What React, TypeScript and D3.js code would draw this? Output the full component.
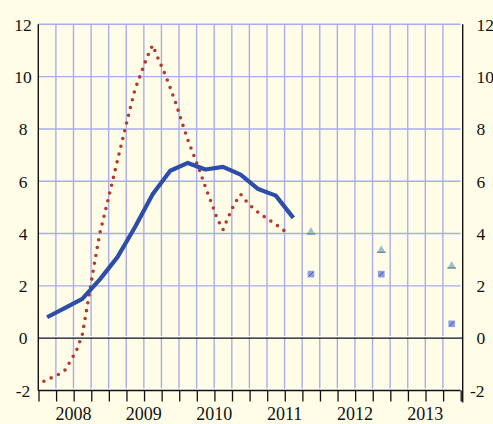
import React from "react";
import * as d3 from "d3";

// Quarterly series (solid blue), 2008Q1 .. 2011Q3
const blueStartYear = 2008;
const blueValues = [0.8, 1.15, 1.5, 2.25, 3.1, 4.25, 5.5, 6.4, 6.7, 6.45, 6.55, 6.25, 5.7, 5.45, 4.6];

// Monthly series (dotted red), Jan 2008 .. Jul 2011
const redStartYear = 2008;
const redValues = [
  -1.7, -1.58, -1.49, -1.38, -1.24, -0.87, -0.48, 0.13, 1.42, 2.77, 4.02, 4.93,
  5.85, 6.8, 7.71, 8.64, 9.52, 10.11, 10.72, 11.2, 10.66, 10.15, 9.57, 8.95,
  8.25, 7.58, 7.0, 6.41, 5.78, 5.19, 4.57, 4.15, 4.68, 5.16, 5.5, 5.23,
  5.0, 4.81, 4.65, 4.5, 4.35, 4.18, 4.02,
];

// Forecast markers (Q4 of each year)
const forecastYears = [2011, 2012, 2013];
const triangleValues = [4.1, 3.4, 2.8];
const squareValues = [2.45, 2.45, 0.55];

const yearLabels = [2008, 2009, 2010, 2011, 2012, 2013];
const yTicks = [-2, 0, 2, 4, 6, 8, 10, 12];
const gridYTicks = [2, 4, 6, 8, 10, 12];

const W = 493;
const H = 424;
const BG = "#FFFDE8";
const GRID = "#A9AEEA";
const FONT = '"Liberation Serif", "Times New Roman", Times, serif';

export default function App() {
  const x = d3.scaleLinear().domain([2008, 2014]).range([38.3, 460.5]);
  const y = d3.scaleLinear().domain([-2, 12]).range([390.5, 24.3]);

  const quarters = d3.range(0, 25).map((i) => 2008 + i / 4);

  const bluePts: [number, number][] = blueValues.map((v, i) => [
    x(blueStartYear + (i + 0.5) / 4),
    y(v),
  ]);
  const redPts: [number, number][] = redValues.map((v, i) => [
    x(redStartYear + (i + 0.5) / 12),
    y(v),
  ]);
  const line = d3.line();

  const xLeft = x(2008);
  const xRight = x(2014);
  const xAxisRight = xRight + 2.2;
  const y0 = y(0);
  const yBottom = y(-2);

  const textStyle = { fontFamily: FONT };

  return (
    <svg
      width={W}
      height={H}
      style={{ position: "absolute", left: 0, top: 0, background: BG }}
    >
      <rect x={0} y={0} width={W} height={H} fill={BG} />
      {quarters.slice(1, 24).map((q) => (
        <line key={"vg" + q} x1={x(q)} x2={x(q)} y1={y(12)} y2={yBottom} stroke={GRID} strokeWidth={1.4} />
      ))}
      {gridYTicks.map((t) => (
        <line key={"hg" + t} x1={xLeft} x2={xRight} y1={y(t)} y2={y(t)} stroke={GRID} strokeWidth={1.4} />
      ))}
      <line x1={xLeft} x2={xAxisRight} y1={y0 - 1.6} y2={y0 - 1.6} stroke="#ffffff" strokeWidth={1.3} />
      <line x1={xLeft} x2={xAxisRight} y1={y0} y2={y0} stroke="#111" strokeWidth={1.3} />
      <line x1={xLeft} x2={xRight} y1={yBottom - 1.6} y2={yBottom - 1.6} stroke="#ffffff" strokeWidth={1.2} />
      <line x1={xLeft} x2={xRight} y1={yBottom} y2={yBottom} stroke="#111" strokeWidth={1.3} />
      {quarters.map((q) => (
        <line key={"tk" + q} x1={x(q) + 0.7} x2={x(q) + 0.7} y1={yBottom} y2={yBottom + 11} stroke="#111" strokeWidth={1.3} />
      ))}
      <line x1={xLeft} x2={xLeft} y1={y(12)} y2={yBottom} stroke="#111" strokeWidth={1.4} />
      <line x1={xAxisRight} x2={xAxisRight} y1={y(12)} y2={yBottom + 12} stroke="#111" strokeWidth={1.4} />

      <path
        d={line(redPts) || ""}
        fill="none"
        stroke="#B23A2F"
        strokeWidth={3.6}
        strokeDasharray="0 8"
        strokeDashoffset={-3}
        strokeLinecap="round"
      />
      <path d={line(bluePts) || ""} fill="none" stroke="#2D4EA8" strokeWidth={4.2} strokeLinejoin="round" />

      {forecastYears.map((yr, i) => {
        const cx = x(yr + 0.875);
        const ty = y(triangleValues[i]);
        const sy = y(squareValues[i]);
        return (
          <g key={"fm" + yr}>
            <path d={`M${cx - 4.3},${ty + 3.5} L${cx},${ty - 4} L${cx + 4.3},${ty + 3.5} Z`} fill="#A3BEC9" />
            <line x1={cx - 4.3} x2={cx + 4.3} y1={ty + 3} y2={ty + 3} stroke="#5C8797" strokeWidth={1.2} />
            <rect x={cx - 3.3} y={sy - 3.3} width={6.6} height={6.6} fill="#8E9CE4" />
            <line x1={cx - 2.2} y1={sy + 2.2} x2={cx + 2.2} y2={sy - 2.2} stroke="#3547B0" strokeWidth={0.9} />
          </g>
        );
      })}

      {yTicks.map((t) => (
        <text key={"yl" + t} x={23} y={y(t) + 6.3} textAnchor="middle" style={textStyle} fontSize={17.5} fill="#111">
          {t}
        </text>
      ))}
      {yTicks.map((t) => (
        <text key={"yr" + t} x={t < 0 ? 470 : 476.5} y={y(t) + 6.3} textAnchor="start" style={textStyle} fontSize={17.5} fill="#111">
          {t}
        </text>
      ))}
      {yearLabels.map((yr) => (
        <text key={"xl" + yr} x={x(yr + 0.5)} y={419.5} textAnchor="middle" style={textStyle} fontSize={18} fill="#111">
          {yr}
        </text>
      ))}
    </svg>
  );
}
